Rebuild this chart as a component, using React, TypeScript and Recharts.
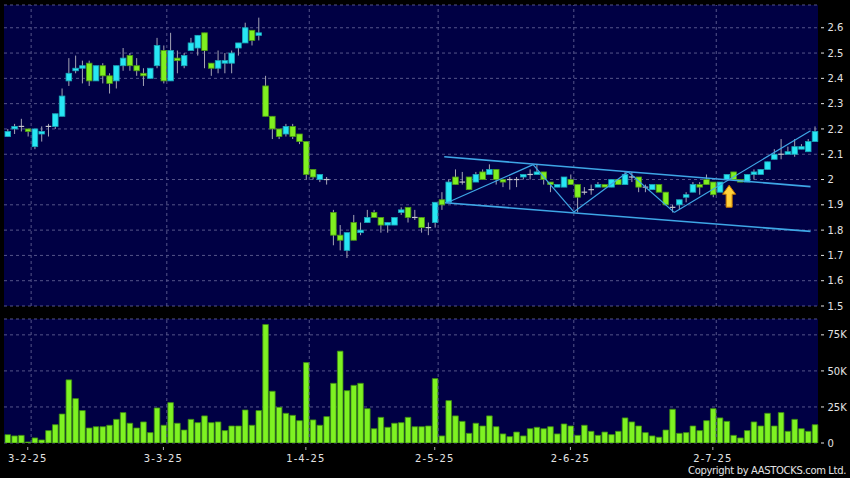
import {
  ComposedChart,
  Bar,
  XAxis,
  YAxis,
  CartesianGrid,
  ReferenceLine,
  ReferenceDot,
} from 'recharts'

// daily candles, oldest first
const opens = [
  2.17, 2.2, 2.21, 2.2, 2.13, 2.18, 2.21, 2.21, 2.25, 2.39,
  2.43, 2.44, 2.46, 2.39, 2.45, 2.41, 2.39, 2.45, 2.49, 2.45,
  2.42, 2.4, 2.45, 2.51, 2.39, 2.48, 2.45, 2.51, 2.52, 2.58,
  2.46, 2.44, 2.46, 2.46, 2.52, 2.54, 2.59, 2.57, 2.37, 2.25,
  2.2, 2.18, 2.21, 2.18, 2.15, 2.04, 2.0, 2.0, 1.87, 1.78,
  1.72, 1.83, 1.79, 1.83, 1.87, 1.85, 1.82, 1.82, 1.87, 1.89,
  1.85, 1.85, 1.81, 1.83, 1.92, 1.91, 2.01, 1.99, 2.01, 1.99,
  2.03, 2.02, 2.04, 2.0, 2.0, 2.0, 2.01, 2.02, 2.02, 2.03,
  1.99, 1.97, 1.97, 2.0, 1.98, 1.95, 1.96, 1.97, 1.98, 1.97,
  2.0, 1.98, 2.01, 2.01, 1.97, 1.96, 1.98, 1.95, 1.89, 1.9,
  1.93, 1.95, 1.98, 2.0, 1.99, 1.95, 2.0, 2.03, 2.0, 1.99,
  2.02, 2.02, 2.04, 2.08, 2.1, 2.1, 2.1, 2.12, 2.11, 2.15,
]
const highs = [
  2.2, 2.22, 2.24, 2.2, 2.2, 2.21, 2.22, 2.26, 2.36, 2.48,
  2.49, 2.47, 2.47, 2.45, 2.46, 2.42, 2.45, 2.52, 2.5, 2.48,
  2.44, 2.44, 2.56, 2.53, 2.58, 2.51, 2.5, 2.56, 2.57, 2.58,
  2.46, 2.51, 2.5, 2.51, 2.54, 2.62, 2.59, 2.64, 2.41, 2.25,
  2.2, 2.22, 2.22, 2.18, 2.15, 2.04, 2.02, 2.01, 1.88, 1.82,
  1.79, 1.86, 1.83, 1.88, 1.88, 1.85, 1.83, 1.85, 1.89, 1.89,
  1.88, 1.85, 1.83, 1.91, 1.95, 2.0, 2.04, 2.03, 2.01, 2.03,
  2.04, 2.06, 2.04, 2.0, 2.01, 2.01, 2.02, 2.04, 2.06, 2.03,
  1.99, 1.98, 2.01, 2.02, 1.98, 1.97, 1.98, 1.99, 1.98, 2.0,
  2.0, 2.03, 2.03, 2.01, 1.98, 1.98, 1.98, 1.95, 1.9, 1.92,
  1.95, 1.99, 1.99, 2.02, 1.99, 1.99, 2.02, 2.03, 2.0, 2.02,
  2.04, 2.04, 2.07, 2.12, 2.16, 2.13, 2.16, 2.14, 2.16, 2.21,
]
const lows = [
  2.17, 2.18, 2.19, 2.17, 2.12, 2.15, 2.17, 2.2, 2.25, 2.37,
  2.42, 2.38, 2.37, 2.39, 2.38, 2.34, 2.36, 2.43, 2.43, 2.41,
  2.37, 2.4, 2.44, 2.38, 2.39, 2.42, 2.44, 2.51, 2.49, 2.44,
  2.41, 2.42, 2.42, 2.42, 2.49, 2.54, 2.53, 2.55, 2.25, 2.16,
  2.16, 2.17, 2.16, 2.14, 2.0, 2.0, 1.99, 1.98, 1.74, 1.72,
  1.69, 1.76, 1.78, 1.83, 1.85, 1.79, 1.79, 1.82, 1.86, 1.83,
  1.84, 1.79, 1.78, 1.81, 1.88, 1.91, 1.98, 1.98, 1.96, 1.99,
  2.0, 2.02, 1.98, 1.97, 1.96, 1.97, 2.0, 2.0, 2.02, 1.98,
  1.95, 1.97, 1.97, 1.98, 1.87, 1.94, 1.94, 1.97, 1.97, 1.97,
  1.98, 1.98, 1.99, 1.95, 1.95, 1.96, 1.95, 1.9, 1.87, 1.88,
  1.91, 1.95, 1.94, 1.98, 1.93, 1.95, 2.0, 2.0, 1.99, 1.99,
  2.0, 2.02, 2.04, 2.08, 2.08, 2.1, 2.09, 2.12, 2.11, 2.15,
]
const closes = [
  2.19, 2.21, 2.21, 2.19, 2.2, 2.19, 2.21, 2.26, 2.33, 2.42,
  2.44, 2.45, 2.39, 2.45, 2.41, 2.38, 2.45, 2.48, 2.45, 2.43,
  2.41, 2.44, 2.53, 2.39, 2.51, 2.47, 2.49, 2.54, 2.57, 2.51,
  2.44, 2.47, 2.47, 2.5, 2.54, 2.6, 2.55, 2.58, 2.25, 2.2,
  2.17, 2.21, 2.17, 2.15, 2.02, 2.01, 2.02, 2.0, 1.78, 1.76,
  1.79, 1.76, 1.8, 1.85, 1.85, 1.82, 1.83, 1.85, 1.88, 1.85,
  1.85, 1.81, 1.81, 1.91, 1.9, 1.99, 1.98, 1.99, 1.96, 2.02,
  2.0, 2.04, 2.0, 1.99, 2.0, 2.0, 2.02, 2.02, 2.03, 2.0,
  1.98, 1.98, 2.01, 1.98, 1.93, 1.95, 1.96, 1.98, 1.97, 2.0,
  1.98, 2.02, 2.01, 1.97, 1.97, 1.98, 1.95, 1.9, 1.89, 1.92,
  1.94, 1.98, 1.97, 1.98, 1.94, 1.99, 2.02, 2.0, 1.99, 2.02,
  2.03, 2.04, 2.07, 2.1, 2.1, 2.11, 2.13, 2.13, 2.15, 2.19,
]
const volumes = [
  5800, 4900, 5300, 700, 3500, 2100, 8600, 12700, 20100, 43800,
  30800, 22500, 10400, 11300, 11300, 12300, 16400, 21100, 13700, 10400,
  14600, 7200, 24300, 12300, 28000, 13700, 9000, 16400, 14100, 18800,
  14100, 14600, 8600, 11800, 11800, 22900, 12300, 22500, 82200, 35900,
  24800, 20600, 19200, 15500, 55800, 16000, 12300, 18300, 41400, 63700,
  36300, 40000, 41400, 23800, 9900, 17800, 10900, 13700, 14100, 17800,
  11300, 11300, 11800, 44700, 4900, 29400, 18800, 15000, 6700, 13700,
  11800, 18800, 11300, 6300, 4400, 7600, 4900, 9900, 10900, 9900,
  11300, 6300, 13200, 11800, 5300, 12300, 8100, 5300, 7600, 5800,
  8100, 17400, 14600, 11800, 7200, 4900, 4000, 9000, 23400, 6700,
  7200, 11800, 8600, 15500, 23800, 17400, 15000, 5300, 3500, 8600,
  14600, 11800, 20600, 11800, 21100, 8100, 16400, 9900, 8100, 12700,
]

const labelIdx = [3, 23, 44, 63, 83, 104]
const labelText = ['3-2-25', '3-3-25', '1-4-25', '2-5-25', '2-6-25', '2-7-25']
const priceTicks = [1.5, 1.6, 1.7, 1.8, 1.9, 2.0, 2.1, 2.2, 2.3, 2.4, 2.5, 2.6]
const volTicks = [0, 25000, 50000, 75000]

// drawn trend lines: [bar position, price]
const upperChannel = [[64.4, 2.09], [118.4, 1.972]]
const lowerChannel = [[64.5, 1.908], [118.4, 1.795]]
const zigzag = [
  [64.8, 1.908],
  [77.5, 2.059],
  [83.5, 1.872],
  [91.5, 2.031],
  [98.3, 1.87],
  [118.4, 2.193],
]
const arrowAt = [106.4, 1.934]

const rows = opens.map((o, i) => ({
  i,
  open: o,
  high: highs[i],
  low: lows[i],
  close: closes[i],
  range: [lows[i], highs[i]],
  vol: volumes[i],
}))

const PANEL = '#000044'
const GRID = '#55558a'
const TEXT = '#e4e4e4'
const CYAN = '#27e6f4'
const GREEN = '#80f020'
const WICK = '#a4a4b4'
const TREND = '#3ea6e6'

function Candle(props: any) {
  const { x, y, width, height, payload } = props
  const { open, close, high, low } = payload
  const top = Math.min(y, y + height)
  const h = Math.abs(height)
  const k = high > low ? h / (high - low) : 0
  const py = (v: number) => top + (high - v) * k
  const cx = x + width / 2
  const bTop = py(Math.max(open, close))
  const bBot = py(Math.min(open, close))
  let body
  if (open === close) {
    body = <line x1={x} x2={x + width} y1={bTop} y2={bTop} stroke="#c4c4cc" strokeWidth={1.2} />
  } else {
    const up = close > open
    body = (
      <rect
        x={x}
        y={bTop}
        width={width}
        height={Math.max(bBot - bTop, 1.5)}
        fill={up ? CYAN : GREEN}
        stroke={up ? '#1aa6b8' : '#4d9a14'}
        strokeWidth={0.8}
      />
    )
  }
  return (
    <g>
      <line x1={cx} x2={cx} y1={top} y2={top + h} stroke={WICK} strokeWidth={1} />
      {body}
    </g>
  )
}

function Arrow(props: any) {
  const { cx, cy } = props
  const d = `M ${cx} ${cy - 11} L ${cx + 6.5} ${cy - 2} L ${cx + 3} ${cy - 2} L ${cx + 3} ${cy + 11} L ${cx - 3} ${cy + 11} L ${cx - 3} ${cy - 2} L ${cx - 6.5} ${cy - 2} Z`
  return <path d={d} fill="#ffd23a" stroke="#c87800" strokeWidth={1} />
}

function PriceTick({ x, y, payload }: any) {
  const v = Number(payload.value.toFixed(1))
  return (
    <g>
      <line x1={x + 3} x2={x + 6} y1={y} y2={y} stroke={TEXT} />
      <text x={x + 9.5} y={y} dy={3.6} fill={TEXT} fontSize={10} textAnchor="start">
        {String(v)}
      </text>
    </g>
  )
}

function VolTick({ x, y, payload }: any) {
  const v = payload.value
  return (
    <g>
      <line x1={x + 3} x2={x + 6} y1={y} y2={y} stroke={TEXT} />
      <text x={x + 9.5} y={y} dy={3.6} fill={TEXT} fontSize={10} textAnchor="start">
        {v === 0 ? '0' : `${v / 1000}K`}
      </text>
    </g>
  )
}

function DateTick({ x, y, payload }: any) {
  const n = labelIdx.indexOf(payload.value)
  return (
    <g>
      <line x1={x} x2={x} y1={y + 4} y2={y + 7} stroke="#b0b0b0" />
      <text x={x} y={y + 19} fill={TEXT} fontSize={10} letterSpacing={1.1} textAnchor="middle">
        {labelText[n]}
      </text>
    </g>
  )
}

const segs = (pts: number[][]) =>
  pts.slice(1).map((p, j) => [
    { x: pts[j][0], y: pts[j][1] },
    { x: p[0], y: p[1] },
  ])

export default function App() {
  return (
    <div
      style={{
        position: 'absolute',
        left: 0,
        top: 0,
        width: 850,
        height: 478,
        background: '#000',
        fontFamily: '"DejaVu Sans", sans-serif',
        overflow: 'hidden',
      }}
    >
      <div style={{ position: 'absolute', left: 0, top: 0 }}>
        <ComposedChart
          width={850}
          height={318}
          data={rows}
          margin={{ top: 5, right: 0, bottom: 12, left: 4 }}
        >
          <CartesianGrid vertical={false} stroke={GRID} strokeDasharray="3 3" fill={PANEL} />
          <XAxis dataKey="i" type="category" hide />
          <XAxis xAxisId="n" dataKey="i" type="number" domain={[-0.5, 119.5]} allowDataOverflow hide />
          <YAxis
            orientation="right"
            domain={[1.5, 2.69]}
            ticks={priceTicks}
            interval={0}
            width={32}
            axisLine={false}
            tickLine={false}
            tickSize={0}
            tickMargin={0}
            tick={<PriceTick />}
            allowDataOverflow
          />
          {labelIdx.map((i) => (
            <ReferenceLine key={i} xAxisId="n" x={i + 0.5} stroke={GRID} strokeDasharray="3 3" />
          ))}
          <Bar dataKey="range" barSize={5.6} isAnimationActive={false} shape={(p: any) => <Candle {...p} />} />
          {[upperChannel, lowerChannel].map((pts, j) => (
            <ReferenceLine
              key={'c' + j}
              xAxisId="n"
              segment={segs(pts)[0]}
              stroke={TREND}
              strokeWidth={1.6}
            />
          ))}
          {segs(zigzag).map((s, j) => (
            <ReferenceLine key={'z' + j} xAxisId="n" segment={s} stroke={TREND} strokeWidth={1.2} />
          ))}
          <ReferenceDot xAxisId="n" x={arrowAt[0]} y={arrowAt[1]} r={0} shape={(p: any) => <Arrow {...p} />} />
        </ComposedChart>
      </div>
      <div style={{ position: 'absolute', left: 0, top: 306 }}>
        <ComposedChart
          width={850}
          height={172}
          data={rows}
          margin={{ top: 13, right: 0, bottom: 0, left: 4 }}
        >
          <CartesianGrid vertical={false} stroke={GRID} strokeDasharray="3 3" fill={PANEL} />
          <XAxis
            dataKey="i"
            type="category"
            ticks={labelIdx}
            interval={0}
            height={35}
            axisLine={false}
            tickLine={false}
            tickSize={0}
            tickMargin={0}
            tick={<DateTick />}
          />
          <XAxis xAxisId="n" dataKey="i" type="number" domain={[-0.5, 119.5]} allowDataOverflow hide />
          <YAxis
            orientation="right"
            domain={[0, 86000]}
            ticks={volTicks}
            interval={0}
            width={32}
            axisLine={false}
            tickLine={false}
            tickSize={0}
            tickMargin={0}
            tick={<VolTick />}
            allowDataOverflow
          />
          {labelIdx.map((i) => (
            <ReferenceLine key={i} xAxisId="n" x={i + 0.5} stroke={GRID} strokeDasharray="3 3" />
          ))}
          <Bar dataKey="vol" barSize={5.6} fill="#7ef222" stroke="#3c8c12" strokeWidth={0.8} isAnimationActive={false} />
        </ComposedChart>
      </div>
      <div
        style={{
          position: 'absolute',
          right: 4,
          top: 465,
          fontSize: 10,
          lineHeight: '12px',
          letterSpacing: -0.35,
          color: TEXT,
          whiteSpace: 'nowrap',
        }}
      >
        Copyright by AASTOCKS.com Ltd.
      </div>
    </div>
  )
}
